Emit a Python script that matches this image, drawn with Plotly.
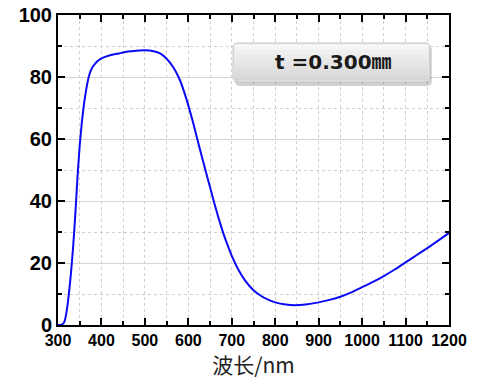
import plotly.graph_objects as go

# Data: transmittance (%) vs wavelength (nm)
wavelength = [300, 305, 310, 315, 320, 325, 330, 335, 340, 345, 350, 355, 360, 365, 370,
              375, 380, 390, 400, 420, 440, 460, 480, 500, 520, 535, 550, 565, 580,
              595, 610, 625, 640, 650, 660, 670, 680, 690, 700, 715, 730, 750, 765,
              780, 800, 820, 845, 870, 900, 925, 950, 975, 1000, 1025, 1050, 1075,
              1100, 1125, 1150, 1175, 1200]
transmittance = [0.0, 0.0, 0.2, 1.2, 4.5, 10.0, 17.0, 25.5, 36.0, 48.0, 58.0, 65.5, 71.5, 76.0, 79.6,
                 81.9, 83.3, 85.0, 86.0, 87.0, 87.6, 88.2, 88.5, 88.6, 88.3, 87.6, 85.9, 83.2, 79.2,
                 73.2, 65.8, 57.6, 49.6, 44.4, 39.2, 34.3, 29.8, 25.9, 22.3, 17.9, 14.5, 11.2, 9.6,
                 8.4, 7.3, 6.7, 6.35, 6.6, 7.3, 8.1, 9.1, 10.5, 12.2, 13.9, 15.8, 17.9,
                 20.2, 22.5, 24.8, 27.2, 29.7]

x_ticks = [300, 400, 500, 600, 700, 800, 900, 1000, 1100, 1200]
y_ticks = [0, 20, 40, 60, 80, 100]
label_text = "t =0.300㎜"
x_title = "波长/nm"

TICKFONT = "Liberation Sans, Arial, sans-serif"

fig = go.Figure()
fig.add_trace(go.Scatter(x=wavelength, y=transmittance, mode="lines",
                         line=dict(color="#0a0af5", width=2, shape="spline", smoothing=0.4),
                         showlegend=False, hoverinfo="skip"))

fig.update_layout(
    width=484, height=379,
    margin=dict(l=58, r=35, t=15, b=54),
    paper_bgcolor="white", plot_bgcolor="white",
    xaxis=dict(range=[300, 1200], tickvals=x_ticks, ticktext=[str(v) for v in x_ticks],
               automargin=False,
               ticks="inside", ticklen=7, tickwidth=1.5, tickcolor="black",
               showline=True, linecolor="black", linewidth=2, mirror="ticks",
               showgrid=False, zeroline=False,
               minor=dict(dtick=50, tick0=300, ticks="inside", ticklen=4, tickwidth=1.5,
                          tickcolor="black", showgrid=True, gridcolor="#d0d0d0",
                          griddash="dot", gridwidth=1),
               tickfont=dict(family=TICKFONT, size=16, color="black", weight="bold"),
               title=dict(text=x_title, standoff=7,
                          font=dict(family="Noto Sans CJK SC", size=21, color="#222"))),
    yaxis=dict(range=[0, 100], tickvals=y_ticks, ticktext=[str(v) for v in y_ticks],
               automargin=False,
               ticks="inside", ticklen=7, tickwidth=1.5, tickcolor="black",
               showline=True, linecolor="black", linewidth=2, mirror="ticks",
               showgrid=True, gridcolor="#d6d6d6", gridwidth=1, zeroline=False,
               minor=dict(dtick=10, ticks="inside", ticklen=4, tickwidth=1.5,
                          tickcolor="black", showgrid=True, gridcolor="#d0d0d0",
                          griddash="dot", gridwidth=1),
               tickfont=dict(family=TICKFONT, size=20, color="black", weight="bold")),
)

# label box (rounded, with shadow and vertical gradient)
bx0, bx1, by0, by1 = 0.4476, 0.951, 0.784, 0.9097
r_x, r_y = 5 / 391, 5 / 310


def rounded(x0, y0, x1, y1):
    return (f"M {x0+r_x},{y0} L {x1-r_x},{y0} Q {x1},{y0} {x1},{y0+r_y} "
            f"L {x1},{y1-r_y} Q {x1},{y1} {x1-r_x},{y1} L {x0+r_x},{y1} "
            f"Q {x0},{y1} {x0},{y1-r_y} L {x0},{y0+r_y} Q {x0},{y0} {x0+r_x},{y0} Z")


shapes = []
shapes.append(dict(type="path", xref="paper", yref="paper",
                   path=rounded(bx0 + 2 / 391, by0 - 4 / 310, bx1 + 2 / 391, by1 - 3 / 310),
                   fillcolor="rgba(0,0,0,0.18)", line=dict(width=0), layer="above"))
shapes.append(dict(type="path", xref="paper", yref="paper",
                   path=rounded(bx0, by0, bx1, by1),
                   fillcolor="#e8e8e8", line=dict(width=0), layer="above"))
n = 10
top_c, bot_c = 250, 212
for i in range(n):
    f0 = i / n
    f1 = (i + 1) / n
    c = int(top_c + (bot_c - top_c) * (i + 0.5) / n)
    shapes.append(dict(type="rect", xref="paper", yref="paper",
                       x0=bx0 + 1.5 / 391, x1=bx1 - 1.5 / 391,
                       y0=by1 - (by1 - by0) * f1 + (1.5 / 310 if i == n - 1 else 0),
                       y1=by1 - (by1 - by0) * f0 - (1.5 / 310 if i == 0 else 0),
                       fillcolor=f"rgb({c},{c},{c})", line=dict(width=0), layer="above"))
shapes.append(dict(type="path", xref="paper", yref="paper",
                   path=rounded(bx0, by0, bx1, by1),
                   fillcolor="rgba(0,0,0,0)", line=dict(color="#c4c4c4", width=1), layer="above"))
fig.update_layout(shapes=shapes)

fig.add_annotation(x=(bx0 + bx1) / 2, y=(by0 + by1) / 2, xref="paper", yref="paper",
                   text=label_text, showarrow=False, yanchor="middle", xanchor="center",
                   xshift=2,
                   font=dict(family="DejaVu Sans, Noto Sans CJK SC", size=20, color="#1a1a1a",
                             weight="bold"))

fig.write_html("out.html")
